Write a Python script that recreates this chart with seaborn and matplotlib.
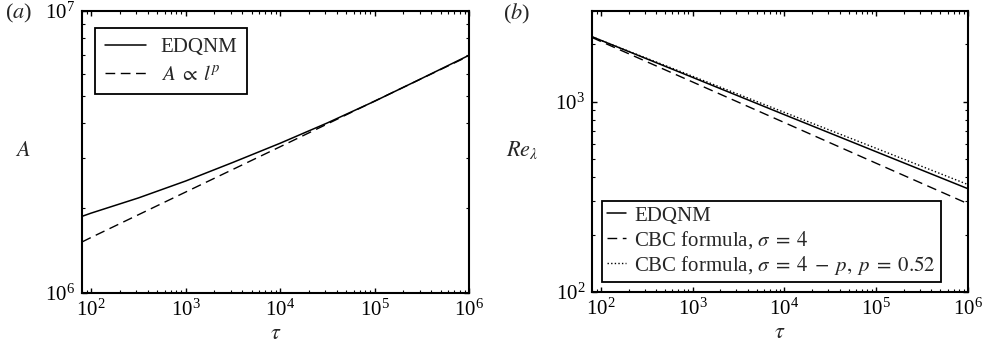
import numpy as np
import pandas as pd
import matplotlib
matplotlib.use("Agg")
import matplotlib.pyplot as plt
import seaborn as sns
from matplotlib.ticker import LogLocator, NullFormatter

# ---- data -------------------------------------------------------------
# (a) prefactor A versus tau
tau_a = [80, 1e2, 10**2.5, 1e3, 10**3.5, 1e4, 10**4.5, 1e5, 10**5.5, 1e6]
A_edqnm = [1.87e6, 1.92e6, 2.173e6, 2.495e6, 2.904e6, 3.396e6, 4.009e6,
           4.786e6, 5.768e6, 6.966e6]
tau_fit = [80, 1e2, 1e3, 1e4, 1e5, 1e6]
A_fit = [1.517e6, 1.574e6, 2.28e6, 3.30e6, 4.79e6, 6.93e6]

# (b) Taylor-scale Reynolds number versus tau
tau_b = [80, 1e2, 1e3, 1e4, 1e5, 1e6]
Re_edqnm = [2198, 2104, 1343, 855, 546, 349]
Re_cbc4 = [2178, 2075, 1270, 777, 475, 291]
Re_cbc4p = [2198, 2104, 1361, 879, 569, 367]

labels_a = ["EDQNM", r"$A\;\propto\;l^{p}$"]
labels_b = ["EDQNM", r"CBC formula, $\sigma\;=\;4$",
            r"CBC formula, $\sigma\;=\;4\;-\;p,\;p\;=\;0.52$"]

# ---- style ------------------------------------------------------------
sns.set_style("ticks")
plt.rcParams.update({
    "font.family": ["Liberation Serif", "DejaVu Serif"],
    "mathtext.fontset": "stix",
    "font.size": 15,
    "axes.linewidth": 1.5,
    "xtick.direction": "in",
    "ytick.direction": "in",
    "xtick.top": True,
    "ytick.right": True,
    "xtick.major.size": 3.5,
    "ytick.major.size": 3.5,
    "xtick.minor.size": 2,
    "ytick.minor.size": 2,
    "xtick.major.width": 1.0,
    "ytick.major.width": 1.0,
    "xtick.minor.width": 0.8,
    "ytick.minor.width": 0.8,
    "xtick.color": "black",
    "ytick.color": "black",
    "axes.edgecolor": "black",
    "xtick.labelsize": 15,
    "ytick.labelsize": 15,
    "legend.fontsize": 15,
})

DASH = (0, (7, 4))
DOT = (0, (1, 1.6))

fig = plt.figure(figsize=(9.9, 3.5), dpi=100)
ax_a = fig.add_axes([82 / 990, 57 / 350, 387 / 990, 282 / 350])
ax_b = fig.add_axes([592 / 990, 58 / 350, 376 / 990, 281 / 350])

df_a1 = pd.DataFrame({"tau": tau_a, "A": A_edqnm})
df_a2 = pd.DataFrame({"tau": tau_fit, "A": A_fit})
sns.lineplot(data=df_a1, x="tau", y="A", ax=ax_a, color="black", lw=1.1,
             label=labels_a[0])
sns.lineplot(data=df_a2, x="tau", y="A", ax=ax_a, color="black", lw=1.0,
             linestyle=DASH, label=labels_a[1])

df_b = pd.DataFrame({"tau": tau_b, "e": Re_edqnm, "c4": Re_cbc4, "c4p": Re_cbc4p})
sns.lineplot(data=df_b, x="tau", y="e", ax=ax_b, color="black", lw=1.1,
             label=labels_b[0])
sns.lineplot(data=df_b, x="tau", y="c4", ax=ax_b, color="black", lw=1.0,
             linestyle=DASH, label=labels_b[1])
sns.lineplot(data=df_b, x="tau", y="c4p", ax=ax_b, color="black", lw=1.0,
             linestyle=DOT, label=labels_b[2])

for ax in (ax_a, ax_b):
    ax.set_xscale("log")
    ax.set_yscale("log")
    ax.set_xlim(80, 1e6)
    ax.xaxis.set_major_locator(LogLocator(base=10, numticks=10))
    ax.xaxis.set_minor_locator(LogLocator(base=10, subs=np.arange(2, 10), numticks=20))
    ax.yaxis.set_minor_locator(LogLocator(base=10, subs=np.arange(2, 10), numticks=20))
    ax.xaxis.set_minor_formatter(NullFormatter())
    ax.yaxis.set_minor_formatter(NullFormatter())
    ax.tick_params(which="both", top=True, right=True, pad=5)
    for s in ax.spines.values():
        s.set_visible(True)
        s.set_linewidth(1.5)
    ax.set_xlabel(r"$\tau$", fontsize=16, va="center")
    ax.xaxis.set_label_coords(0.5, -0.148)

ax_a.set_ylim(1e6, 1e7)
ax_b.set_ylim(100, 3000)

ax_a.set_ylabel(r"$A$", rotation=0, fontsize=16, va="center", ha="center")
ax_a.yaxis.set_label_coords(-0.152, 0.5)
ax_b.set_ylabel(r"$Re_{\lambda}$", rotation=0, fontsize=16, va="center", ha="center")
ax_b.yaxis.set_label_coords(-0.186, 0.505)

leg_a = ax_a.legend(loc="upper left", bbox_to_anchor=(0.034, 0.94),
                    borderaxespad=0, frameon=True, fancybox=False,
                    edgecolor="black", framealpha=1, handlelength=2.0,
                    handletextpad=0.7, labelspacing=0.4, borderpad=0.45)
leg_a.get_frame().set_linewidth(1.3)

leg_b = ax_b.legend(loc="lower left", bbox_to_anchor=(0.027, 0.036),
                    borderaxespad=0, frameon=True, fancybox=False,
                    edgecolor="black", framealpha=1, handlelength=0.9,
                    handletextpad=0.4, labelspacing=0.15, borderpad=0.25)
leg_b.get_frame().set_linewidth(1.3)

fig.text(5 / 990, 1 - 13 / 350, r"($a$)", fontsize=16, va="center", ha="left")
fig.text(503 / 990, 1 - 14 / 350, r"($b$)", fontsize=16, va="center", ha="left")

fig.savefig("out.png", dpi=100)
